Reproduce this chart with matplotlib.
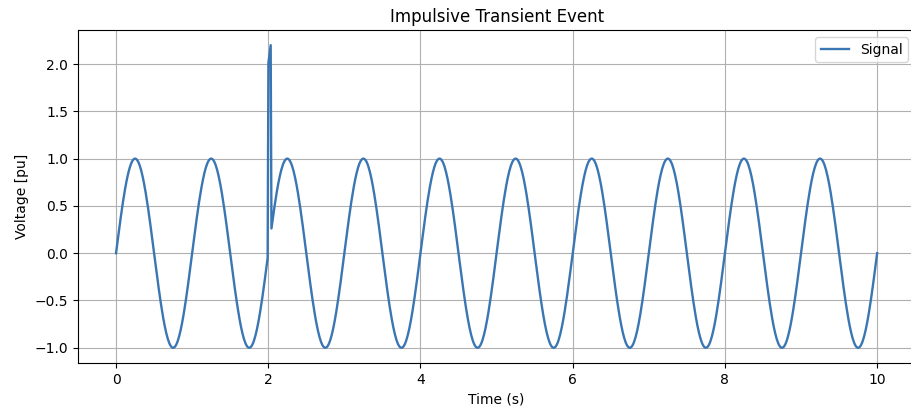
import numpy as np
import matplotlib

matplotlib.use("Agg")
import matplotlib.pyplot as plt

# signal parameters
T_START, T_END, N_SAMPLES = 0.0, 10.0, 1000
FREQ_HZ = 1.0
AMPLITUDE = 1.0
SPIKE_START, SPIKE_END = 2.0, 2.04
SPIKE_HEIGHT = 2.0

t = np.linspace(T_START, T_END, N_SAMPLES)
signal = AMPLITUDE * np.sin(2 * np.pi * FREQ_HZ * t)
spike = (t >= SPIKE_START) & (t < SPIKE_END)
signal[spike] += SPIKE_HEIGHT

fig = plt.figure(figsize=(9.12, 4.11), dpi=100)
ax = fig.add_axes([0.0855, 0.117, 0.918, 0.81])
ax.plot(t, signal, color="#3a76b3", lw=1.7, label="Signal")
ax.set_title("Impulsive Transient Event", fontsize=12)
ax.set_xlabel("Time (s)")
ax.set_ylabel("Voltage [pu]")
ax.grid(True)
ax.legend(loc="upper right")
fig.savefig("out.png", dpi=100)
